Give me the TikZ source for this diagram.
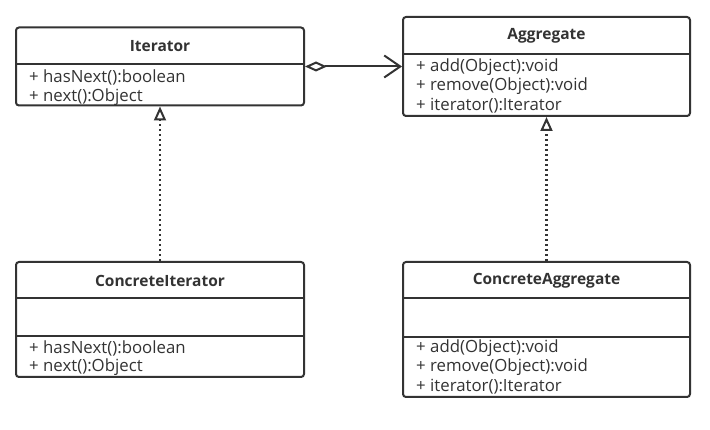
\documentclass[tikz,border=0pt]{standalone}
\usepackage{fontspec}
\setmainfont{Open Sans}
\usetikzlibrary{arrows.meta}
\definecolor{umlgray}{HTML}{333333}

\begin{document}
\begin{tikzpicture}[x=1pt, y=-1pt,
    classbox/.style={draw=umlgray, line width=2pt, rounded corners=3pt, minimum width=288pt, inner sep=0pt},
    title/.style={inner sep=0pt, text=umlgray, font=\bfseries\fontsize{15.5}{18}\selectfont},
    member/.style={anchor=west, inner sep=0pt, text=umlgray, font=\fontsize{16.8}{19}\selectfont},
    sep/.style={draw=umlgray, line width=2pt},
    realize/.style={draw=umlgray, line width=2.5pt, dash pattern=on 2pt off 3pt,
        -{Triangle[open, length=14pt, width=12pt, line width=2pt]}},
    aggregate/.style={draw=umlgray, line width=2pt,
        {Diamond[open, length=22pt, width=10pt, line width=2pt]}-{Straight Barb[length=16pt, width=22pt, line width=2pt]}}]
    \useasboundingbox (0,0) rectangle (710,430);
    % Draw the Iterator class
    \node[classbox, minimum height=78pt] (iter) at (160,66.5) {};
    \node[title] (iterT) at (160,46) {Iterator};
    \draw[sep] (iter.west |- 0,64) -- (iter.east |- 0,64);
    \foreach \y/\txt in {77/{+ hasNext():boolean}, 97/{+ next():Object}} {
        \node[member] (iter-\y) at (29,\y) {\txt};
    }
    % Draw the Aggregate class
    \node[classbox, minimum height=99pt, minimum width=287pt] (agg) at (546.5,66.5) {};
    \node[title] (aggT) at (546.5,36) {Aggregate};
    \draw[sep] (agg.west |- 0,54) -- (agg.east |- 0,54);
    \foreach \y/\txt in {67/{+ add(Object):void}, 86/{+ remove(Object):void}, 106/{+ iterator():Iterator}} {
        \node[member] (agg-\y) at (416,\y) {\txt};
    }
    % Draw the ConcreteIterator class
    \node[classbox, minimum height=115pt] (citer) at (160,319.5) {};
    \node[title] (citerT) at (160,281) {ConcreteIterator};
    \draw[sep] (citer.west |- 0,298) -- (citer.east |- 0,298);
    \draw[sep] (citer.west |- 0,336) -- (citer.east |- 0,336);
    \foreach \y/\txt in {348/{+ hasNext():boolean}, 367/{+ next():Object}} {
        \node[member] (citer-\y) at (29,\y) {\txt};
    }
    % Draw the ConcreteAggregate class
    \node[classbox, minimum height=135pt, minimum width=287pt] (cagg) at (546.5,329.5) {};
    \node[title] (caggT) at (546.5,281) {ConcreteAggregate};
    \draw[sep] (cagg.west |- 0,298) -- (cagg.east |- 0,298);
    \draw[sep] (cagg.west |- 0,337) -- (cagg.east |- 0,337);
    \foreach \y/\txt in {348/{+ add(Object):void}, 367/{+ remove(Object):void}, 387/{+ iterator():Iterator}} {
        \node[member] (cagg-\y) at (416,\y) {\txt};
    }
    % Draw the connectors
    \draw[aggregate] (iter.east) -- (agg.west);
    \draw[realize] (citer.north) -- (iter.south);
    \draw[realize] (cagg.north) -- (agg.south);
\end{tikzpicture}
\end{document}
